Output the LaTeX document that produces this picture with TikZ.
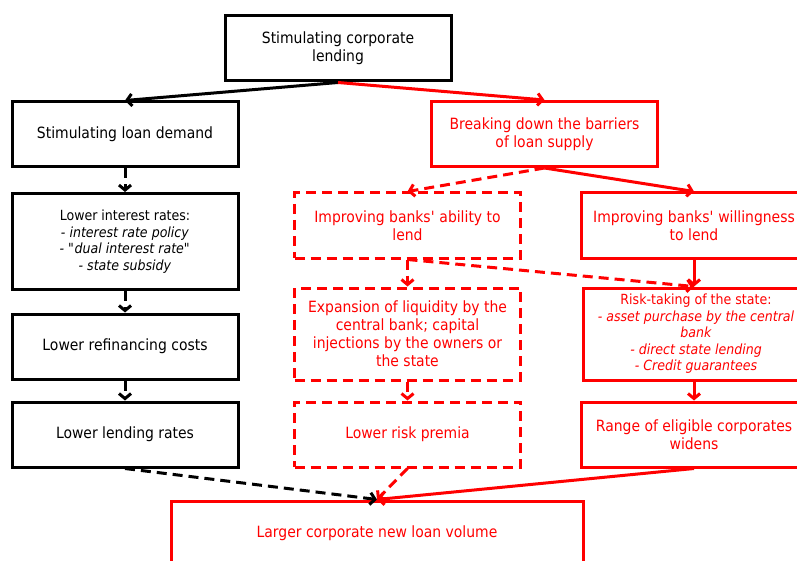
\documentclass[tikz,border=0pt]{standalone}
\usepackage{fontspec}
\setmainfont{DejaVu Sans}[FakeStretch=0.9]
\usetikzlibrary{arrows.meta}

\begin{document}
\begin{tikzpicture}[x=1pt,y=-1pt,>={Straight Barb[length=5pt,width=12pt]},
  font=\fontsize{15.5}{18}\selectfont,
  box/.style={draw,line width=3pt,minimum width=226pt,minimum height=65pt,
    align=center,inner sep=2pt},
  redbox/.style={box,red,text=red},
  dashbox/.style={redbox,dash pattern=on 10pt off 6pt},
  link/.style={->,line width=3pt},
  dlink/.style={link,dash pattern=on 10pt off 6pt},
  small/.style={font=\fontsize{14}{16.5}\selectfont}]
\clip (0,0) rectangle (797,561);
\node[box] (top) at (338,48.5) {Stimulating corporate\\lending};
\node[box] (demand) at (125,134.5) {Stimulating loan demand};
\node[redbox] (barriers) at (544.5,134) {Breaking down the barriers\\of loan supply};
\node[box,small,minimum height=96pt] (rates) at (125,241.5) {Lower interest rates:\\
\textit{- interest rate policy}\\\textit{- \textquotedbl dual interest rate\textquotedbl}\\
\textit{- state subsidy}};
\node[box] (refin) at (125,346.5) {Lower refinancing costs};
\node[box] (lending) at (125,434.5) {Lower lending rates};
\node[dashbox] (ability) at (407.5,225.5) {Improving banks\textquotesingle\ ability to\\lend};
\node[dashbox,minimum height=92pt] (liquid) at (407.5,334) {Expansion of liquidity by the\\
central bank; capital\\injections by the owners or\\the state};
\node[dashbox] (premia) at (407.5,434.5) {Lower risk premia};
\node[redbox] (willing) at (694,225.5) {Improving banks\textquotesingle\ willingness\\to lend};
\node[redbox,small,minimum height=92pt] (risk) at (696,334) {Risk-taking of the state:\\
\textit{- asset purchase by the central}\\\textit{bank}\\\textit{- direct state lending}\\
\textit{- Credit guarantees}};
\node[redbox] (range) at (694,434.5) {Range of eligible corporates\\widens};
\node[redbox,minimum width=412pt,minimum height=64pt] (volume) at (377,533)
  {Larger corporate new loan volume};
\draw[link] (top.south) -- (demand.north);
\draw[link,red] (top.south) -- (barriers.north);
\draw[dlink] (demand) -- (rates);
\draw[dlink] (rates) -- (refin);
\draw[dlink] (refin) -- (lending);
\draw[dlink] (lending.south) -- (volume.north);
\draw[dlink,red] (barriers.south) -- (ability.north);
\draw[link,red] (barriers.south) -- (willing.north);
\draw[dlink,red] (ability) -- (liquid);
\draw[dlink,red] (ability.south) -- (risk.north -| willing);
\draw[dlink,red] (liquid) -- (premia);
\draw[dlink,red] (premia.south) -- (volume.north);
\draw[link,red] (willing.south) -- (risk.north -| willing);
\draw[link,red] (risk.south -| range) -- (range);
\draw[link,red] (range.south) -- (volume.north);
\end{tikzpicture}
\end{document}
